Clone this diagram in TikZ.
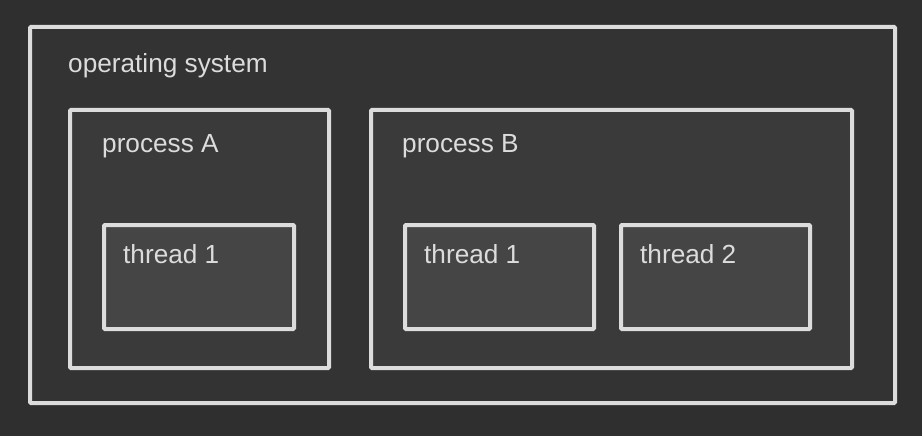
\documentclass[tikz,border=0pt]{standalone}
\usepackage{fontspec}
\setmainfont{Liberation Sans}
\usepackage{xcolor}
\usepackage{tikz}
\usetikzlibrary{positioning}
\definecolor{osBack}{HTML}{2F2F2F}
\definecolor{osFill}{HTML}{333333}
\definecolor{procFill}{HTML}{3A3A3A}
\definecolor{threadFill}{HTML}{454545}
\definecolor{osLine}{HTML}{DCDCDC}
\tikzset{
  os diagram/.style={x=1pt, y=-1pt, text=osLine},
  os frame/.style={draw=osLine, line width=4pt, rounded corners=1pt,
    rectangle, anchor=north west, inner sep=0pt, outer sep=0pt},
  os box/.style={os frame, fill=osFill},
  proc box/.style={os frame, fill=procFill},
  thread box/.style={os frame, fill=threadFill},
  os label/.style={anchor=base west, inner sep=0pt,
    font=\fontsize{26.2}{31}\selectfont}
}
\begin{document}
\begin{tikzpicture}[os diagram]
\fill[osBack] (0,0) rectangle (922,436);
\useasboundingbox (0,0) rectangle (922,436);
% outer frame
\node[os box, minimum width=865pt, minimum height=376pt] (os) at (30,27) {};
\node[os label] (osText) at ([shift={(38,46)}]os.north west) {operating system};
% processes
\node[proc box, minimum width=259pt, minimum height=258pt] (procA) at (70,110) {};
\node[proc box, minimum width=481pt, minimum height=258pt] (procB) at (371,110) {};
\node[os label] (procAText) at ([shift={(32,42)}]procA.north west) {process A};
\node[os label] (procBText) at ([shift={(31,42)}]procB.north west) {process B};
% threads
\node[thread box, minimum width=190pt, minimum height=104pt] (threadA1) at (104,225) {};
\node[thread box, minimum width=189pt, minimum height=104pt] (threadB1) at (405,225) {};
\node[thread box, minimum width=189pt, minimum height=104pt] (threadB2) at (621,225) {};
\foreach \t/\s in {threadA1/thread 1,threadB1/thread 1,threadB2/thread 2}
  \node[os label] at ([shift={(19,38)}]\t.north west) {\s};
\end{tikzpicture}
\end{document}
